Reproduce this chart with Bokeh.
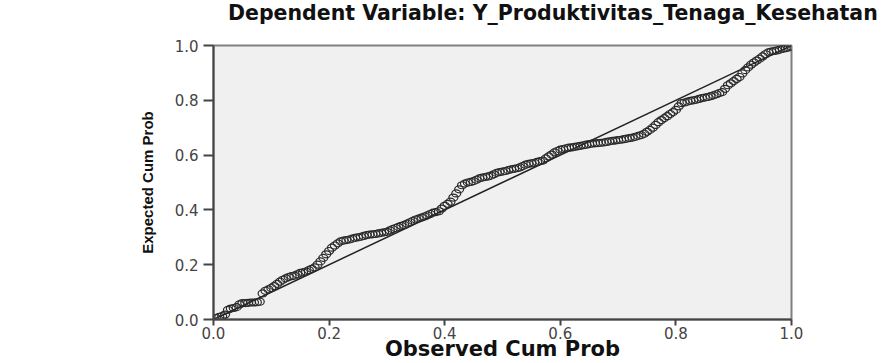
from bokeh.plotting import figure
from bokeh.models import Range1d, FixedTicker, CustomJSTickFormatter, Div
from bokeh.layouts import column
from bokeh.embed import file_html
from bokeh.resources import INLINE

# ---- data ----
observed_cum_prob = [
    0.005, 0.010, 0.015, 0.020, 0.025, 0.030, 0.035, 0.040, 0.045, 0.050,
    0.055, 0.060, 0.065, 0.070, 0.075, 0.080, 0.085, 0.090, 0.095, 0.100,
    0.105, 0.110, 0.115, 0.120, 0.125, 0.130, 0.135, 0.140, 0.145, 0.150,
    0.155, 0.160, 0.165, 0.170, 0.175, 0.180, 0.185, 0.190, 0.195, 0.200,
    0.205, 0.210, 0.215, 0.220, 0.225, 0.230, 0.235, 0.240, 0.245, 0.250,
    0.255, 0.260, 0.265, 0.270, 0.275, 0.280, 0.285, 0.290, 0.295, 0.300,
    0.305, 0.310, 0.315, 0.320, 0.325, 0.330, 0.335, 0.340, 0.345, 0.350,
    0.355, 0.360, 0.365, 0.370, 0.375, 0.380, 0.385, 0.390, 0.395, 0.400,
    0.405, 0.410, 0.415, 0.420, 0.425, 0.430, 0.435, 0.440, 0.445, 0.450,
    0.455, 0.460, 0.465, 0.470, 0.475, 0.480, 0.485, 0.490, 0.495, 0.500,
    0.505, 0.510, 0.515, 0.520, 0.525, 0.530, 0.535, 0.540, 0.545, 0.550,
    0.555, 0.560, 0.565, 0.570, 0.575, 0.580, 0.585, 0.590, 0.595, 0.600,
    0.605, 0.610, 0.615, 0.620, 0.625, 0.630, 0.635, 0.640, 0.645, 0.650,
    0.655, 0.660, 0.665, 0.670, 0.675, 0.680, 0.685, 0.690, 0.695, 0.700,
    0.705, 0.710, 0.715, 0.720, 0.725, 0.730, 0.735, 0.740, 0.745, 0.750,
    0.755, 0.760, 0.765, 0.770, 0.775, 0.780, 0.785, 0.790, 0.795, 0.800,
    0.805, 0.810, 0.815, 0.820, 0.825, 0.830, 0.835, 0.840, 0.845, 0.850,
    0.855, 0.860, 0.865, 0.870, 0.875, 0.880, 0.885, 0.890, 0.895, 0.900,
    0.905, 0.910, 0.915, 0.920, 0.925, 0.930, 0.935, 0.940, 0.945, 0.950,
    0.955, 0.960, 0.965, 0.970, 0.975, 0.980, 0.985, 0.990, 0.995, 1.000,
]
expected_cum_prob = [
    0.005, 0.010, 0.012, 0.018, 0.035, 0.040, 0.042, 0.045, 0.055, 0.060,
    0.060, 0.061, 0.062, 0.062, 0.063, 0.065, 0.095, 0.105, 0.110, 0.115,
    0.122, 0.130, 0.138, 0.145, 0.150, 0.155, 0.158, 0.160, 0.165, 0.170,
    0.172, 0.175, 0.180, 0.185, 0.190, 0.200, 0.212, 0.225, 0.238, 0.250,
    0.262, 0.270, 0.278, 0.285, 0.288, 0.290, 0.292, 0.295, 0.298, 0.300,
    0.302, 0.305, 0.308, 0.310, 0.311, 0.312, 0.314, 0.316, 0.318, 0.320,
    0.325, 0.330, 0.334, 0.338, 0.342, 0.345, 0.350, 0.355, 0.360, 0.365,
    0.368, 0.372, 0.376, 0.380, 0.385, 0.390, 0.392, 0.395, 0.405, 0.415,
    0.422, 0.430, 0.445, 0.460, 0.475, 0.490, 0.496, 0.500, 0.502, 0.505,
    0.510, 0.515, 0.518, 0.520, 0.522, 0.525, 0.530, 0.535, 0.538, 0.540,
    0.542, 0.545, 0.548, 0.550, 0.552, 0.555, 0.560, 0.565, 0.568, 0.570,
    0.572, 0.575, 0.578, 0.580, 0.588, 0.595, 0.602, 0.610, 0.615, 0.620,
    0.622, 0.625, 0.627, 0.628, 0.630, 0.632, 0.634, 0.636, 0.638, 0.640,
    0.642, 0.643, 0.644, 0.645, 0.646, 0.648, 0.650, 0.652, 0.653, 0.655,
    0.656, 0.658, 0.660, 0.662, 0.664, 0.667, 0.670, 0.673, 0.678, 0.685,
    0.692, 0.700, 0.710, 0.720, 0.728, 0.735, 0.742, 0.750, 0.757, 0.765,
    0.778, 0.790, 0.792, 0.795, 0.798, 0.800, 0.802, 0.805, 0.808, 0.810,
    0.812, 0.815, 0.818, 0.822, 0.826, 0.830, 0.842, 0.855, 0.862, 0.870,
    0.878, 0.885, 0.898, 0.910, 0.920, 0.930, 0.938, 0.945, 0.952, 0.960,
    0.968, 0.975, 0.978, 0.980, 0.982, 0.985, 0.988, 0.990, 0.993, 0.996,
]
reference_line = [0.0, 1.0]
tick_values = [0.0, 0.2, 0.4, 0.6, 0.8, 1.0]
title_text = "Dependent Variable: Y_Produktivitas_Tenaga_Kesehatan"
x_label = "Observed Cum Prob"
y_label = "Expected Cum Prob"

title_div = Div(
    text=title_text, width=656, height=37, margin=(0, 0, 0, 228),
    styles={"font-family": "DejaVu Sans", "font-weight": "bold",
            "font-size": "20.5px", "line-height": "27px", "color": "#111111",
            "white-space": "nowrap"},
)

p = figure(
    width=884, height=326,
    output_backend="svg", toolbar_location=None,
    x_range=Range1d(0, 1), y_range=Range1d(0, 1),
    min_border_left=213, min_border_right=93,
    min_border_top=8, min_border_bottom=43,
    title=None,
)

p.background_fill_color = "#f0f0f0"
p.border_fill_color = "white"
p.outline_line_color = "#808080"
p.outline_line_width = 2
p.grid.visible = False

fmt = CustomJSTickFormatter(code="return tick.toFixed(1);")
for ax in (p.xaxis[0], p.yaxis[0]):
    ax.ticker = FixedTicker(ticks=tick_values)
    ax.formatter = fmt
    ax.minor_tick_line_color = None
    ax.major_tick_in = 0
    ax.axis_line_color = "#444444"
    ax.axis_line_width = 2
    ax.major_tick_line_color = "#444444"
    ax.major_tick_line_width = 2
    ax.major_label_text_font = "DejaVu Sans"
    ax.major_label_text_font_size = "15px"
    ax.major_label_text_color = "#444444"
    ax.axis_label_text_font_style = "bold"
    ax.axis_label_text_color = "#111111"

p.xaxis[0].major_tick_out = 6
p.xaxis[0].major_label_standoff = 1
p.xaxis[0].axis_label = x_label
p.xaxis[0].axis_label_text_font = "DejaVu Sans"
p.xaxis[0].axis_label_text_font_size = "21px"
p.xaxis[0].axis_label_standoff = -5

p.yaxis[0].major_tick_out = 10
p.yaxis[0].major_label_standoff = 5
p.yaxis[0].axis_label = y_label
p.yaxis[0].axis_label_text_font = "Liberation Sans"
p.yaxis[0].axis_label_text_font_size = "15px"
p.yaxis[0].axis_label_standoff = 16

p.line(reference_line, reference_line, line_color="#222222", line_width=1.5)
p.ellipse(x=observed_cum_prob, y=expected_cum_prob, width=9, height=7,
          width_units="screen", height_units="screen",
          fill_color=None, line_color="#2a2a2a", line_width=1.2)

layout = column(title_div, p, spacing=0)
open("out.html", "w").write(file_html(layout, INLINE))
